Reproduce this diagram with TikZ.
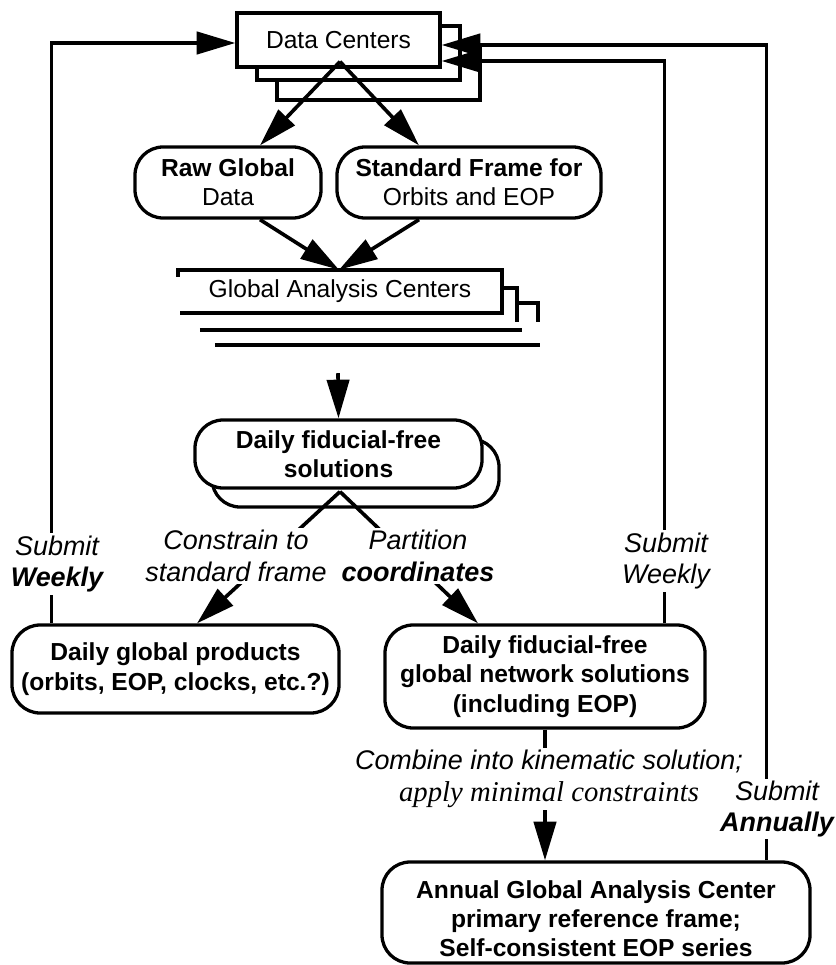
\documentclass[tikz,border=0pt]{standalone}
\usepackage{fontspec}
\setmainfont{Liberation Sans}
\newfontfamily\timesit{Liberation Serif}
\usetikzlibrary{calc,arrows.meta}
\definecolor{ink}{HTML}{000000}
\definecolor{paper}{HTML}{FFFFFF}
\newcommand\boxsize{\fontsize{21pt}{25pt}\selectfont}
\newcommand\notesize{\fontsize{23pt}{27pt}\selectfont}
\tikzset{
  rack/.style={draw=ink, fill=paper, line width=2.8pt, inner sep=0pt, font=\boxsize},
  pill/.style={rack, rounded corners=24pt, align=center},
  wire/.style={draw=ink, line width=3.1pt},
  flow/.style={wire, -{Triangle[length=33pt,width=19pt]}},
  note/.style={fill=paper, inner sep=2pt, align=center, font=\notesize\itshape},
}

\begin{document}
\begin{tikzpicture}[x=0.03cm, y=-0.03cm]
  \fill[paper] (0,0) rectangle (833,965);

  % data centers, stacked
  \node[rack, minimum width=6.09cm, minimum height=1.62cm] (dc3) at (378.5,73) {};
  \node[rack, minimum width=6.09cm, minimum height=1.62cm] (dc2) at (358.5,53) {};
  \node[rack, minimum width=6.09cm, minimum height=1.62cm] (dc) at (338.5,40) {Data Centers};

  \node[pill, minimum width=5.58cm, minimum height=2.13cm] (raw) at (228,182.5) {\textbf{Raw Global}\\Data};
  \node[pill, minimum width=7.92cm, minimum height=2.13cm] (std) at (469,182.5) {\textbf{Standard Frame for}\\Orbits and EOP};

  % global analysis centers, open stack
  \node[inner sep=0pt, minimum width=9.72cm, minimum height=1.29cm, font=\boxsize] (gac) at (340,291.5) {Global Analysis Centers};
  \draw[wire] ($(gac.north west)+(0,7)$) -- (gac.north west) -- (gac.north east) -- (gac.south east) -- ($(gac.south west)+(2,0)$);
  \draw[wire] ($(gac.north east)+(0,18)$) -- ++(15,0) -- ++(0,34);
  \draw[wire] ($(gac.north east)+(15,33)$) -- ++(21,0) -- ++(0,19);
  \draw[wire] ($(gac.south west)+(22,17)$) -- ($(gac.south east)+(20,17)$);
  \draw[wire] ($(gac.south west)+(37,32)$) -- ($(gac.south east)+(38,32)$);

  \node[pill, minimum width=8.61cm, minimum height=2.04cm] (sol2) at (355.5,473) {};
  \node[pill, minimum width=8.61cm, minimum height=2.04cm, font=\boxsize\bfseries] (sol) at (338.5,454) {Daily fiducial-free\\solutions};

  \node[pill, minimum width=9.81cm, minimum height=2.64cm, font=\boxsize\bfseries] (prod) at (175.5,669) {Daily global products\\(orbits, EOP, clocks, etc.?)};
  \node[pill, minimum width=9.6cm, minimum height=3.09cm, font=\boxsize\bfseries] (net) at (545,676.5) {Daily fiducial-free\\global network solutions\\(including EOP)};
  \node[pill, minimum width=12.84cm, minimum height=3.03cm, font=\boxsize\bfseries] (ann) at (596,912.5) {\rule{0pt}{26pt}Annual Global Analysis Center\\primary reference frame;\\Self-consistent EOP series};

  % main flow
  \coordinate (dcfoot) at ($(dc.south)+(1.5,-7)$);
  \draw[flow] (dcfoot) -- ($(raw.north)+(32,0)$);
  \draw[flow] (dcfoot) -- ($(std.north)+(-50,0)$);
  \draw[flow] ($(raw.south)+(32,0)$) -- ($(gac.north)+(-1,0)$);
  \draw[flow] ($(std.south)+(-50,0)$) -- ($(gac.north)+(-1,0)$);
  \draw[flow] ($(gac.south)+(-2,60)$) -- (sol.north);
  \coordinate (solfoot) at ($(sol.south)+(1.5,2)$);
  \draw[flow] (solfoot) -- ($(prod.north)+(21.5,0)$);
  \draw[flow] (solfoot) -- ($(net.north)+(-67,0)$);
  \draw[flow] (net.south) -- (net.south |- ann.north);

  % submissions back to the data centers
  \draw[flow] ($(prod.north west)+(41,0)$) |- ($(dc.west)+(0,3)$);
  \draw[flow] ($(net.north east)+(-42,0)$) |- ($(dc.east)+(0,21)$);
  \draw[flow] ($(ann.north east)+(-45,0)$) |- ($(dc.east)+(0,5)$);

  \node[note] (cons) at (236,556) {Constrain to\\standard frame};
  \node[note] (part) at (418,556) {Partition\\\textbf{coordinates}};
  \node[note] (comb) at (549,779) {Combine into kinematic solution;\\{\timesit\fontsize{24.5pt}{27pt}\selectfont\itshape apply minimal constraints}};
  \node[note] (wkl) at (57,564) {Submit\\\textbf{Weekly}};
  \node[note] (wkr) at (666,561) {Submit\\Weekly};
  \node[note, inner sep=1pt] (yr) at (777,809) {Submit\\\textbf{Annually}};
\end{tikzpicture}
\end{document}
